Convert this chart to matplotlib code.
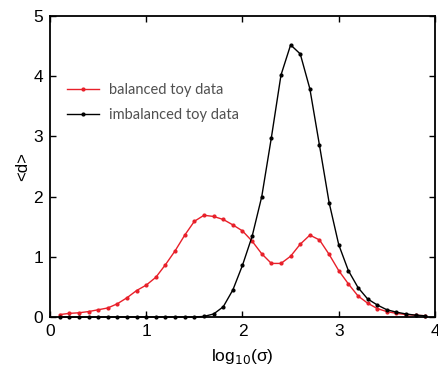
import numpy as np
import matplotlib.pyplot as plt

plt.rcParams['font.family'] = ['Liberation Sans', 'DejaVu Sans']

log_sigma = [round(0.1 * i, 1) for i in range(1, 40)]

balanced = [0.04, 0.06, 0.07, 0.09, 0.12, 0.15, 0.22, 0.32, 0.44, 0.53,
            0.66, 0.87, 1.10, 1.36, 1.59, 1.69, 1.67, 1.62, 1.53, 1.43,
            1.26, 1.05, 0.89, 0.89, 1.01, 1.21, 1.36, 1.28, 1.04, 0.77,
            0.55, 0.35, 0.23, 0.14, 0.09, 0.06, 0.04, 0.03, 0.02]

imbalanced = [0.0, 0.0, 0.0, 0.0, 0.0, 0.0, 0.0, 0.0, 0.0, 0.0,
              0.0, 0.0, 0.0, 0.0, 0.0, 0.01, 0.05, 0.17, 0.45, 0.86,
              1.34, 2.0, 2.98, 4.02, 4.52, 4.37, 3.79, 2.85, 1.90, 1.20,
              0.77, 0.49, 0.30, 0.20, 0.12, 0.08, 0.05, 0.03, 0.02]

fig = plt.figure(figsize=(4.39, 3.68), dpi=100)
ax = fig.add_axes([50 / 439, 1 - 317 / 368, 385 / 439, 301 / 368])

ax.plot(log_sigma, balanced, color='#e8202a', marker='o', markersize=2.0,
        linewidth=1.0, label='balanced toy data', clip_on=False)
ax.plot(log_sigma, imbalanced, color='black', marker='o', markersize=2.0,
        linewidth=1.0, label='imbalanced toy data', clip_on=False)

ax.set_xlim(0, 4)
ax.set_ylim(0, 5)
ax.set_xticks([0, 1, 2, 3, 4])
ax.set_yticks([0, 1, 2, 3, 4, 5])
for s in ax.spines.values():
    s.set_linewidth(1.3)
ax.tick_params(direction='in', top=True, right=True, labelsize=12.5,
               length=4, width=1.0, pad=5)
ax.set_xlabel('log$_{10}$(σ)', fontsize=12.5, labelpad=6)
ax.set_ylabel('<d>', fontsize=12, labelpad=2)

leg = ax.legend(loc='upper left', bbox_to_anchor=(0.01, 0.82), frameon=False,
                prop={'family': 'Lato', 'size': 10.5}, handlelength=2.2,
                handletextpad=0.7, labelspacing=0.75)
for t in leg.get_texts():
    t.set_color('#505050')

fig.savefig('out.png', dpi=100)
